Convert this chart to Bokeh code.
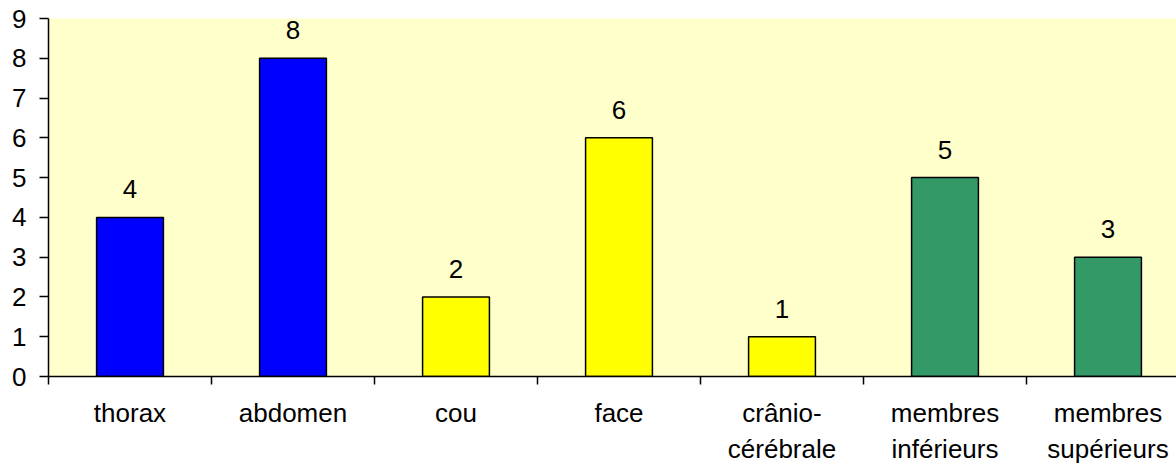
from bokeh.plotting import figure
from bokeh.models import FixedTicker, Range1d, ColumnDataSource
from bokeh.embed import file_html
from bokeh.resources import INLINE
from bokeh.core.properties import value

categories = ["thorax", "abdomen", "cou", "face", "crânio-\ncérébrale", "membres\ninférieurs", "membres\nsupérieurs"]
counts = [4, 8, 2, 6, 1, 5, 3]
colors = ["#0000FF", "#0000FF", "#FFFF00", "#FFFF00", "#FFFF00", "#339966", "#339966"]
y_ticks = list(range(0, 10))

n = len(categories)
xs = [i + 0.5 for i in range(n)]
src = ColumnDataSource(dict(x=xs, top=counts, color=colors, label=[str(c) for c in counts]))

W, H = 1176, 466
left, top, bottom = 48, 18, 86
plot_w = W - left
x_end = plot_w / 163.0

p = figure(width=W, height=H, output_backend="svg", toolbar_location=None,
           x_range=Range1d(0, x_end), y_range=Range1d(0, 9),
           min_border_left=left, min_border_top=top, min_border_bottom=bottom, min_border_right=0)
p.background_fill_color = "#FFFFCC"
p.border_fill_color = "white"
p.outline_line_color = None
p.grid.visible = False

p.vbar(x="x", top="top", width=0.41, bottom=0, source=src, fill_color="color",
       line_color="black", line_width=1.5)
p.text(x="x", y="top", text="label", source=src, y_offset=-19, text_align="center",
       text_baseline="bottom", text_font=value("Liberation Sans"), text_font_size="26px",
       text_color="black")

p.xaxis.ticker = FixedTicker(ticks=xs, minor_ticks=list(range(0, n + 1)))
p.xaxis.major_label_overrides = {x: c for x, c in zip(xs, categories)}
p.xaxis.major_tick_out = 0
p.xaxis.major_tick_in = 0
p.xaxis.minor_tick_out = 8
p.xaxis.minor_tick_in = 0
p.xaxis.minor_tick_line_width = 1.5
p.xaxis.minor_tick_line_color = "black"

p.yaxis.ticker = FixedTicker(ticks=y_ticks, minor_ticks=[])
p.yaxis.major_tick_out = 9
p.yaxis.major_tick_in = 0
p.yaxis.major_tick_line_width = 1.5
p.yaxis.minor_tick_line_color = None
p.yaxis.major_label_standoff = 13

for ax in (p.xaxis, p.yaxis):
    ax.axis_line_color = "black"
    ax.axis_line_width = 1.5
    ax.major_label_text_font = "Liberation Sans"
    ax.major_label_text_font_size = "26px"
    ax.major_label_text_color = "black"
p.xaxis.major_label_standoff = 13

open("out.html", "w").write(file_html(p, INLINE))
